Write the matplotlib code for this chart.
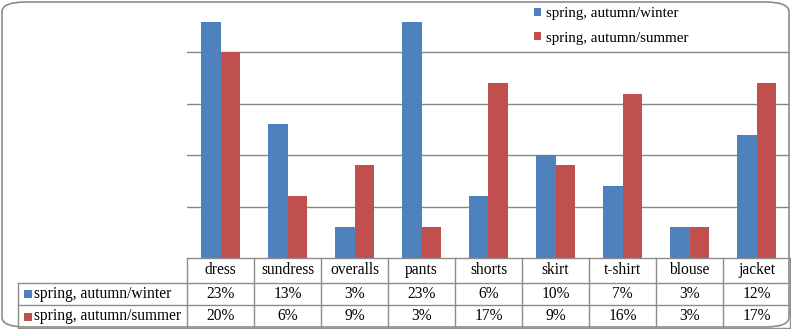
import matplotlib
matplotlib.use("Agg")
import matplotlib.pyplot as plt
import numpy as np
from matplotlib.patches import FancyBboxPatch, Rectangle
from matplotlib.transforms import blended_transform_factory

categories = ["dress", "sundress", "overalls", "pants", "shorts", "skirt", "t-shirt", "blouse", "jacket"]
series_names = ["spring, autumn/winter", "spring, autumn/summer"]
winter = [23, 13, 3, 23, 6, 10, 7, 3, 12]
summer = [20, 6, 9, 3, 17, 9, 16, 3, 17]
colors = ["#4F81BD", "#C0504D"]

plt.rcParams['font.family'] = ['Liberation Serif', 'DejaVu Serif']

W, H = 791, 329
fig = plt.figure(figsize=(W / 100, H / 100), dpi=100)

# outer rounded frame
frame = FancyBboxPatch((2 / W, 2 / H), (W - 4) / W, (H - 4) / H,
                       boxstyle="round,pad=0,rounding_size=0.03",
                       transform=fig.transFigure, facecolor="none",
                       edgecolor="#8c8c8c", linewidth=1.2, zorder=5)
fig.patches.append(frame)

x0, x1 = 187, 790
y_axis = 258
ax = fig.add_axes([x0 / W, (H - y_axis) / H, (x1 - x0) / W, (y_axis - 1) / H])
ax.set_facecolor("none")
x = np.arange(len(categories))
bw = 0.29
ax.bar(x - bw / 2, winter, bw, color=colors[0], zorder=3, label=series_names[0])
ax.bar(x + bw / 2, summer, bw, color=colors[1], zorder=3, label=series_names[1])
ax.set_xlim(-0.5, len(categories) - 0.5)
ax.set_ylim(0, 25)
ax.set_yticks([5, 10, 15, 20])
ax.yaxis.grid(True, color="#868686", linewidth=1.0, zorder=0)
ax.set_axisbelow(True)
ax.tick_params(left=False, bottom=False, labelleft=False, labelbottom=False)
for s in ax.spines.values():
    s.set_visible(False)

leg = ax.legend(loc="upper left", bbox_to_anchor=(0.566, 1.0), frameon=False,
                fontsize=10.8, handlelength=0.45, handleheight=0.45,
                handletextpad=0.35, labelspacing=0.78, borderaxespad=0)

# data table
trans = blended_transform_factory(ax.transData, fig.transFigure)
def fy(py):
    return 1 - py / H

line_kw = dict(color="#8c8c8c", linewidth=1.0)
rows_y = [258, 283, 305, 328]
label_x = 18
fig.add_artist(plt.Line2D([x0 / W, x1 / W], [fy(rows_y[0])] * 2, transform=fig.transFigure, **line_kw))
for ry in rows_y[1:]:
    fig.add_artist(plt.Line2D([label_x / W, x1 / W], [fy(ry)] * 2, transform=fig.transFigure, **line_kw))
fig.add_artist(plt.Line2D([label_x / W] * 2, [fy(rows_y[1]), fy(rows_y[3])], transform=fig.transFigure, **line_kw))
for i in range(len(categories) + 1):
    fig.add_artist(plt.Line2D([i - 0.5] * 2, [fy(rows_y[0]), fy(rows_y[3])], transform=trans, **line_kw))

fs = 11.2
for i, c in enumerate(categories):
    fig.text(i, fy((rows_y[0] + rows_y[1]) / 2), c, transform=trans, ha="center", va="center", fontsize=fs)
    fig.text(i, fy((rows_y[1] + rows_y[2]) / 2), f"{winter[i]}%", transform=trans, ha="center", va="center", fontsize=fs)
    fig.text(i, fy((rows_y[2] + rows_y[3]) / 2), f"{summer[i]}%", transform=trans, ha="center", va="center", fontsize=fs)

for k, name in enumerate(series_names):
    yc = fy((rows_y[k + 1] + rows_y[k + 2]) / 2)
    fig.patches.append(Rectangle(((label_x + 6) / W, yc - 4 / H), 8 / W, 8 / H,
                                 transform=fig.transFigure, facecolor=colors[k], edgecolor="none"))
    fig.text((label_x + 16) / W, yc, name, ha="left", va="center", fontsize=fs)

fig.savefig("out.png", dpi=100)
